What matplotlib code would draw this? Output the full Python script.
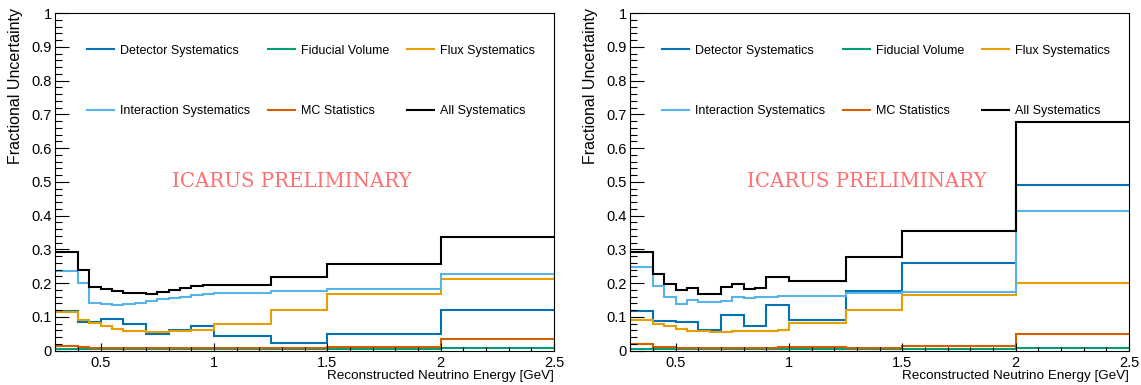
import matplotlib
matplotlib.use("Agg")
import matplotlib.pyplot as plt
from matplotlib.ticker import MultipleLocator, FuncFormatter

plt.rcParams["font.family"] = ["Liberation Sans", "DejaVu Sans"]

# bin edges in reconstructed neutrino energy (GeV)
edges = [0.3, 0.4, 0.45, 0.5, 0.55, 0.6, 0.65, 0.7, 0.75, 0.8, 0.85, 0.9, 0.95,
         1.0, 1.25, 1.5, 2.0, 2.5]

labels = ["Detector Systematics", "Fiducial Volume", "Flux Systematics",
          "Interaction Systematics", "MC Statistics", "All Systematics"]
colors = ["#0072B2", "#009E73", "#E69F00", "#56B4E9", "#D55E00", "black"]

# left panel
left_detector = [0.117, 0.086, 0.086, 0.095, 0.095, 0.079, 0.079, 0.050, 0.050,
                 0.061, 0.061, 0.074, 0.074, 0.045, 0.024, 0.049, 0.120]
left_fiducial = [0.006, 0.005, 0.005, 0.005, 0.005, 0.005, 0.005, 0.005, 0.005,
                 0.005, 0.005, 0.005, 0.005, 0.005, 0.005, 0.005, 0.008]
left_flux = [0.116, 0.090, 0.082, 0.072, 0.063, 0.059, 0.058, 0.056, 0.056,
             0.057, 0.058, 0.060, 0.061, 0.079, 0.122, 0.168, 0.211]
left_interaction = [0.237, 0.200, 0.141, 0.137, 0.135, 0.137, 0.142, 0.147, 0.153,
                    0.156, 0.160, 0.164, 0.167, 0.170, 0.177, 0.183, 0.226]
left_mcstat = [0.014, 0.010, 0.009, 0.008, 0.008, 0.008, 0.008, 0.008, 0.008,
               0.008, 0.008, 0.008, 0.009, 0.009, 0.008, 0.011, 0.034]
left_all = [0.293, 0.240, 0.189, 0.184, 0.178, 0.172, 0.172, 0.167, 0.174,
            0.181, 0.186, 0.191, 0.195, 0.195, 0.218, 0.256, 0.336]

# right panel
right_detector = [0.117, 0.087, 0.087, 0.086, 0.086, 0.060, 0.060, 0.106, 0.106,
                  0.074, 0.074, 0.136, 0.136, 0.091, 0.178, 0.259, 0.490]
right_fiducial = [0.006, 0.006, 0.006, 0.006, 0.006, 0.006, 0.006, 0.006, 0.006,
                  0.006, 0.006, 0.006, 0.006, 0.006, 0.006, 0.006, 0.007]
right_flux = [0.090, 0.080, 0.073, 0.065, 0.059, 0.057, 0.056, 0.056, 0.057,
              0.057, 0.058, 0.059, 0.061, 0.082, 0.121, 0.165, 0.200]
right_interaction = [0.248, 0.193, 0.160, 0.139, 0.149, 0.143, 0.144, 0.146, 0.158,
                     0.155, 0.158, 0.160, 0.161, 0.163, 0.171, 0.175, 0.413]
right_mcstat = [0.019, 0.012, 0.010, 0.009, 0.009, 0.009, 0.009, 0.009, 0.009,
                0.009, 0.009, 0.009, 0.010, 0.010, 0.009, 0.015, 0.049]
right_all = [0.293, 0.228, 0.197, 0.180, 0.186, 0.168, 0.168, 0.189, 0.198,
             0.182, 0.186, 0.219, 0.219, 0.205, 0.277, 0.355, 0.676]


def draw_panel(ax, series):
    handles = []
    for vals, col, lab in zip(series, colors, labels):
        h = ax.stairs(vals, edges, baseline=None, color=col, lw=1.5, label=lab)
        handles.append(h)

    ax.set_xlim(0.3, 2.5)
    ax.set_ylim(0, 1)
    ax.xaxis.set_major_locator(MultipleLocator(0.5))
    ax.xaxis.set_minor_locator(MultipleLocator(0.1))
    ax.yaxis.set_major_locator(MultipleLocator(0.1))
    ax.yaxis.set_minor_locator(MultipleLocator(0.02))
    ax.xaxis.set_major_formatter(FuncFormatter(lambda v, p: f"{v:g}"))
    ax.yaxis.set_major_formatter(FuncFormatter(lambda v, p: f"{v:g}"))
    ax.tick_params(axis="y", which="major", direction="in", length=10, width=0.8,
                   labelsize=10.5, pad=2.5)
    ax.tick_params(axis="y", which="minor", direction="in", length=5, width=0.8)
    ax.tick_params(axis="x", which="major", direction="in", length=5.8, width=0.8,
                   labelsize=10.5, pad=4)
    ax.tick_params(axis="x", which="minor", direction="in", length=3.2, width=0.8)
    for sp in ax.spines.values():
        sp.set_linewidth(0.8)

    ax.set_xlabel("Reconstructed Neutrino Energy [GeV]", fontsize=9.7, loc="right")
    ax.xaxis.set_label_coords(1.0, -0.057)
    ax.set_ylabel("Fractional Uncertainty", fontsize=11.5, loc="top")
    ax.yaxis.set_label_coords(-0.064, 1.014)

    # legend: 3 columns, ROOT-style row order
    order = [0, 3, 1, 4, 2, 5]
    ax.legend([handles[i] for i in order], [labels[i] for i in order], ncol=3,
              loc="upper left", bbox_to_anchor=(0.051, 0.925), frameon=False,
              fontsize=9, handlelength=2.15, handletextpad=0.48,
              columnspacing=1.45, labelspacing=3.9, borderpad=0)

    ax.text(0.475, 0.5, "ICARUS PRELIMINARY", transform=ax.transAxes,
            ha="center", va="center", fontsize=14.2, color="#ff6f6f",
            family="DejaVu Serif")


fig = plt.figure(figsize=(11.41, 3.85), dpi=100)
ax1 = fig.add_axes([0.0485, 0.0891, 0.437, 0.877])
ax2 = fig.add_axes([0.5524, 0.0891, 0.437, 0.877])

draw_panel(ax1, [left_detector, left_fiducial, left_flux, left_interaction,
                 left_mcstat, left_all])
draw_panel(ax2, [right_detector, right_fiducial, right_flux, right_interaction,
                 right_mcstat, right_all])

fig.savefig("out.png", dpi=100)
